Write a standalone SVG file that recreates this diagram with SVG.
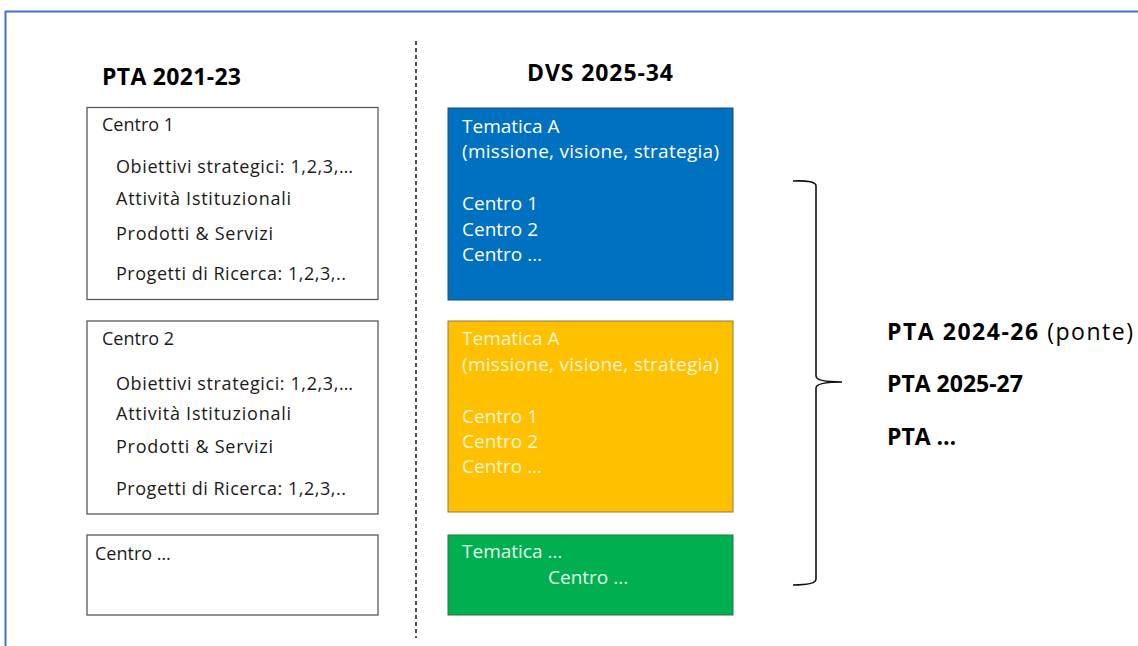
<svg xmlns="http://www.w3.org/2000/svg" width="1138" height="646" viewBox="0 0 1138 646">
<style>
  text { font-family: "Open Sans", Lato, "Liberation Sans", sans-serif; }
  .h { font-size: 23px; font-weight: bold; fill: #000; }
  .t { font-size: 18px; fill: #1a1a1a; }
  .w { font-size: 19px; fill: #ffffff; }
  .wy { font-size: 19px; fill: #fff6d6; }
  .wg { font-size: 19px; fill: #e4f8ea; }
  .box { fill: #fff; stroke: #595959; stroke-width: 1.3; }
  .r { font-size: 23px; fill: #000; }
</style>
<rect x="0" y="0" width="1138" height="646" fill="#fff"/>
<g id="frame">
  <line x1="5" y1="11.5" x2="1138" y2="11.5" stroke="#4472C4" stroke-width="2"/>
  <line x1="5.5" y1="11" x2="5.5" y2="646" stroke="#4472C4" stroke-width="2"/>
</g>
<g id="divider">
  <line x1="416" y1="41" x2="416" y2="638" stroke="#222" stroke-width="1.6" stroke-dasharray="4,3"/>
</g>
<g id="title-left"><text class="h" x="102" y="85" textLength="139">PTA 2021-23</text></g>
<g id="title-right"><text class="h" x="527" y="81" textLength="146">DVS 2025-34</text></g>

<g id="centro1">
  <rect class="box" x="87" y="107.5" width="291" height="192"/>
  <text class="t" x="102" y="131">Centro 1</text>
  <text class="t" x="116" y="173" textLength="237">Obiettivi strategici: 1,2,3,…</text>
  <text class="t" x="116" y="205" textLength="175">Attività Istituzionali</text>
  <text class="t" x="116" y="240" textLength="157">Prodotti &amp; Servizi</text>
  <text class="t" x="116" y="280" textLength="230">Progetti di Ricerca: 1,2,3,..</text>
</g>
<g id="centro2">
  <rect class="box" x="87" y="321" width="291" height="193"/>
  <text class="t" x="102" y="345">Centro 2</text>
  <text class="t" x="116" y="390" textLength="237">Obiettivi strategici: 1,2,3,…</text>
  <text class="t" x="116" y="420" textLength="175">Attività Istituzionali</text>
  <text class="t" x="116" y="453" textLength="157">Prodotti &amp; Servizi</text>
  <text class="t" x="116" y="495" textLength="230">Progetti di Ricerca: 1,2,3,..</text>
</g>
<g id="centro-etc">
  <rect class="box" x="87" y="535" width="291" height="80"/>
  <text class="t" x="95" y="560">Centro …</text>
</g>

<g id="tematica-blue">
  <rect x="448" y="108" width="285" height="192" fill="#0070C0" stroke="#1f4e79" stroke-width="1"/>
  <text class="w" x="462" y="133">Tematica A</text>
  <text class="w" x="462" y="158" textLength="257">(missione, visione, strategia)</text>
  <text class="w" x="462" y="210">Centro 1</text>
  <text class="w" x="462" y="236">Centro 2</text>
  <text class="w" x="462" y="261">Centro …</text>
</g>
<g id="tematica-yellow">
  <rect x="448" y="321" width="285" height="191" fill="#FFC000" stroke="#8a7a50" stroke-width="1"/>
  <text class="wy" x="462" y="345">Tematica A</text>
  <text class="wy" x="462" y="371" textLength="257">(missione, visione, strategia)</text>
  <text class="wy" x="462" y="423">Centro 1</text>
  <text class="wy" x="462" y="448">Centro 2</text>
  <text class="wy" x="462" y="473">Centro …</text>
</g>
<g id="tematica-green">
  <rect x="448" y="535" width="285" height="80" fill="#00B050" stroke="#2e7040" stroke-width="1"/>
  <text class="wg" x="462" y="558">Tematica …</text>
  <text class="wg" x="548" y="584">Centro ...</text>
</g>

<g id="connectors">
  <path d="M793,181 Q816,180 816,186 L816,376 Q816,382 842,382 Q816,382 816,388 L816,579 Q816,585 793,585" fill="none" stroke="#111" stroke-width="1.6"/>
</g>

<g id="pta-list">
  <text class="r" x="887" y="340" textLength="246"><tspan font-weight="bold">PTA 2024-26</tspan> (ponte)</text>
  <text class="r" x="887" y="392" font-weight="bold">PTA 2025-27</text>
  <text class="r" x="887" y="445" font-weight="bold">PTA …</text>
</g>
</svg>
